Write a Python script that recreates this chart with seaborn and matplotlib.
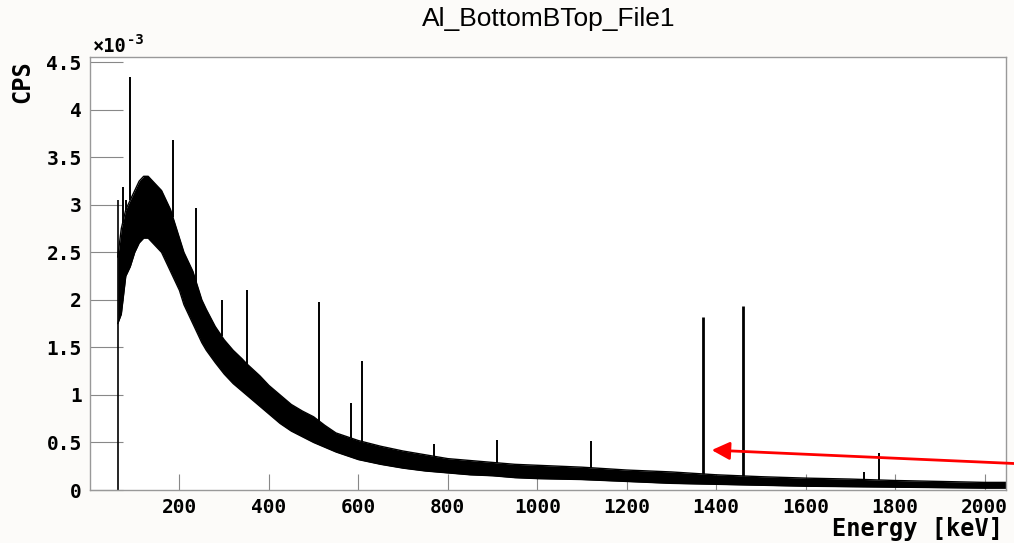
import numpy as np
import matplotlib
matplotlib.use("Agg")
import matplotlib.pyplot as plt
import seaborn as sns
from matplotlib.ticker import MultipleLocator, FormatStrFormatter

# Continuum band of the spectrum (CPS in units of 1e-3)
energy = [62, 70, 80, 90, 100, 110, 120, 130, 140, 150, 160, 170, 180, 190,
          200, 210, 220, 230, 240, 250, 260, 280, 300, 320, 340, 350, 380,
          400, 425, 450, 475, 500, 525, 550, 575, 600, 650, 700, 750, 800,
          850, 900, 950, 1000, 1100, 1200, 1300, 1400, 1500, 1600, 1700,
          1800, 1900, 2000, 2048]
band_lo = [1.75, 1.85, 2.25, 2.35, 2.5, 2.6, 2.65, 2.65, 2.6, 2.55, 2.5,
           2.4, 2.3, 2.2, 2.1, 1.95, 1.85, 1.75, 1.65, 1.55, 1.47, 1.34,
           1.22, 1.12, 1.04, 1.0, 0.88, 0.8, 0.7, 0.62, 0.56, 0.5, 0.45,
           0.4, 0.36, 0.32, 0.27, 0.23, 0.2, 0.18, 0.16, 0.15, 0.13, 0.12,
           0.11, 0.09, 0.07, 0.06, 0.05, 0.04, 0.035, 0.03, 0.025, 0.02, 0.02]
band_hi = [2.45, 2.75, 2.95, 3.05, 3.15, 3.25, 3.3, 3.3, 3.25, 3.2, 3.15,
           3.05, 2.95, 2.8, 2.65, 2.5, 2.4, 2.3, 2.15, 2.0, 1.9, 1.72, 1.58,
           1.47, 1.38, 1.33, 1.2, 1.1, 1.0, 0.9, 0.83, 0.77, 0.68, 0.6,
           0.56, 0.52, 0.46, 0.41, 0.37, 0.33, 0.31, 0.29, 0.27, 0.26, 0.24,
           0.21, 0.19, 0.16, 0.14, 0.125, 0.115, 0.1, 0.09, 0.08, 0.08]

# Gamma lines: energy [keV] and peak height (CPS x 1e-3)
peak_energy = [73, 80, 90, 185, 238, 295, 352, 511, 583, 609, 769, 911,
               1120, 1370, 1461, 1730, 1764]
peak_height = [3.19, 3.05, 4.34, 3.68, 2.97, 2.0, 2.1, 1.98, 0.92, 1.36,
               0.48, 0.53, 0.52, 1.82, 1.94, 0.19, 0.39]

start_energy = 62
start_height = 3.05

sns.set_style("white")
plt.rcParams['font.family'] = ['DejaVu Sans Mono']
plt.rcParams['font.weight'] = 'bold'
plt.rcParams['text.color'] = 'black'

fig = plt.figure(figsize=(10.14, 5.43), dpi=100, facecolor='#fcfbf9')
ax = fig.add_axes([90 / 1014, 53 / 543, 916 / 1014, 433 / 543])
ax.set_facecolor('white')

ax.fill_between(energy, band_lo, band_hi, color='black', lw=0)
sns.lineplot(x=energy, y=band_hi, color='black', lw=1.0, ax=ax)
sns.lineplot(x=energy, y=band_lo, color='black', lw=1.0, ax=ax)

base = np.interp(peak_energy, energy, band_hi)
widths = [2.0 if h > 1.5 and e > 1000 else 1.4
          for e, h in zip(peak_energy, peak_height)]
ax.vlines(peak_energy, base, peak_height, color='black', lw=widths)
ax.vlines(start_energy, 0, start_height, color='black', lw=1.2)

ax.set_xlim(0, 2048)
ax.set_ylim(0, 4.555)

ax.set_xticks([200, 400, 600, 800, 1000, 1200, 1400, 1600, 1800, 2000])
ax.xaxis.set_minor_locator(MultipleLocator(50))
ax.yaxis.set_major_locator(MultipleLocator(0.5))
ax.yaxis.set_minor_locator(MultipleLocator(0.1))
ax.yaxis.set_major_formatter(FormatStrFormatter('%g'))

ax.tick_params(axis='y', which='major', direction='in', length=24, width=0.8,
               color='#888888', labelcolor='black', pad=6, labelsize=14)
ax.tick_params(axis='y', which='minor', direction='in', length=12, width=0.8,
               color='#888888')
ax.tick_params(axis='x', which='major', direction='in', length=11.5, width=0.8,
               color='#888888', labelcolor='black', pad=6, labelsize=14)
ax.tick_params(axis='x', which='minor', direction='in', length=5.8, width=0.8,
               color='#888888')
ax.tick_params(left=True, bottom=True, top=False, right=False)

for sp in ax.spines.values():
    sp.set_color('#999999')
    sp.set_linewidth(1.0)

ax.set_xlabel('')
ax.set_ylabel('')
fig.text(1003 / 1014, 1 - 529 / 543, 'Energy [keV]', ha='right', va='center',
         fontsize=17, fontweight='bold')
fig.text(22 / 1014, 1 - 60 / 543, 'CPS', rotation=90, ha='center', va='top',
         fontsize=17, fontweight='bold')
fig.text(93 / 1014, 1 - 52 / 543, '\u00d710', ha='left', va='baseline',
         fontsize=13.5, fontweight='bold')
fig.text(127 / 1014, 1 - 44 / 543, '-3', ha='left', va='baseline',
         fontsize=10, fontweight='bold')
fig.text(549 / 1014, 1 - 19 / 543, 'Al_BottomBTop_File1', ha='center',
         va='center', fontsize=19, fontweight='normal',
         family='Liberation Sans')

ax.annotate('', xy=(1390, 0.42), xycoords='data',
            xytext=(1.0, 79.5 / 543), textcoords='figure fraction',
            annotation_clip=False,
            arrowprops=dict(arrowstyle='-|>,head_length=0.6,head_width=0.3',
                            mutation_scale=18, color='red', lw=2,
                            shrinkA=0, shrinkB=0))

fig.savefig('out.png', dpi=100, facecolor=fig.get_facecolor())
